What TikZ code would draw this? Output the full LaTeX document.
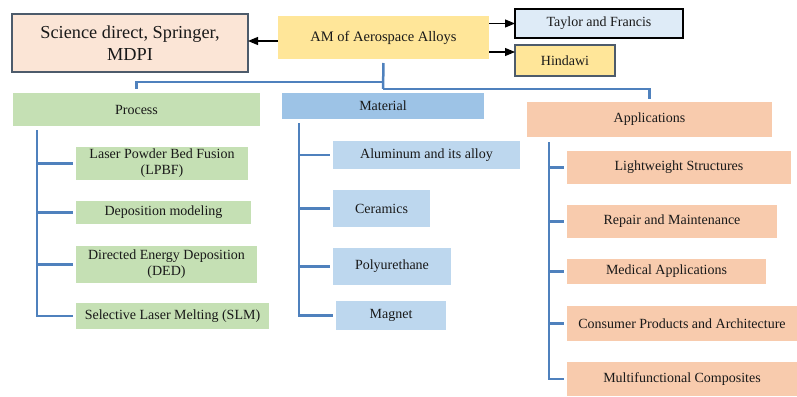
\documentclass[tikz,border=0pt]{standalone}
\usepackage{fontspec}
\setmainfont{Liberation Serif}
\usetikzlibrary{arrows.meta}
\definecolor{cSci}{HTML}{FBE5D6}
\definecolor{cEdge}{HTML}{4D5B6B}
\definecolor{cYel}{HTML}{FFE699}
\definecolor{cTF}{HTML}{DEEBF7}
\definecolor{cGrn}{HTML}{C5E0B4}
\definecolor{cMat}{HTML}{9DC3E6}
\definecolor{cMatL}{HTML}{BDD7EE}
\definecolor{cApp}{HTML}{F8CBAD}
\definecolor{cLine}{HTML}{4F81BD}
\tikzset{
  box/.style={anchor=north west, inner sep=0pt, outer sep=0pt, align=center,
    font=\fontsize{14}{16}\selectfont, text=black!90},
  conn/.style={draw=cLine, line width=2.5pt},
  arr/.style={draw=black, line width=1.1pt, -{Triangle[length=10pt,width=8pt]}},
}
\begin{document}
\begin{tikzpicture}[x=1pt,y=1pt]
\useasboundingbox (0,0) rectangle (797,-396);
% top row
\node[box, fill=cSci, draw=cEdge, line width=1.2pt, minimum width=236, minimum height=58,
  font=\fontsize{18.3}{22}\selectfont] (sci) at (12,-14) {Science direct, Springer,\\MDPI};
\node[box, fill=cYel, minimum width=211, minimum height=43, font=\fontsize{14.5}{17}\selectfont] (am) at (278,-16) {AM of Aerospace Alloys};
\node[box, fill=cTF, draw=black, line width=1.1pt, minimum width=168, minimum height=29] (tf) at (515,-9) {Taylor and Francis};
\node[box, fill=cYel, draw=cEdge, line width=1.1pt, minimum width=100, minimum height=31] (hin) at (515,-45) {Hindawi};
% categories
\node[box, fill=cGrn, minimum width=247, minimum height=33] (proc) at (13,-93) {Process};
\node[box, fill=cMat, minimum width=202, minimum height=26] (mat) at (282,-93) {Material};
\node[box, fill=cApp, minimum width=245, minimum height=35] (app) at (527,-102) {Applications};
% process children
\node[box, fill=cGrn, minimum width=172, minimum height=33] (lpbf) at (76,-147) {Laser Powder Bed Fusion\\(LPBF)};
\node[box, fill=cGrn, minimum width=175, minimum height=23] (dep) at (76,-201) {Deposition modeling};
\node[box, fill=cGrn, minimum width=181, minimum height=37] (ded) at (76,-246) {Directed Energy Deposition\\(DED)};
\node[box, fill=cGrn, minimum width=193, minimum height=26] (slm) at (76,-303) {Selective Laser Melting (SLM)};
% material children
\node[box, fill=cMatL, minimum width=187, minimum height=28] (alu) at (333,-141) {Aluminum and its alloy};
\node[box, fill=cMatL, minimum width=97, minimum height=37] (cer) at (333,-190) {Ceramics};
\node[box, fill=cMatL, minimum width=118, minimum height=37] (poly) at (333,-248) {Polyurethane};
\node[box, fill=cMatL, minimum width=110, minimum height=29] (mag) at (336,-301) {Magnet};
% application children
\node[box, fill=cApp, minimum width=224, minimum height=33] (lw) at (567,-151) {Lightweight Structures};
\node[box, fill=cApp, minimum width=210, minimum height=33] (rep) at (567,-205) {Repair and Maintenance};
\node[box, fill=cApp, minimum width=199, minimum height=25] (med) at (567,-259) {Medical Applications};
\node[box, fill=cApp, minimum width=230, minimum height=35] (con) at (567,-306) {Consumer Products and Architecture};
\node[box, fill=cApp, minimum width=230, minimum height=34] (mul) at (567,-362) {Multifunctional Composites};
% arrows
\draw[arr] ([yshift=-3.5pt]am.west) -- ([yshift=-3.5pt]am.west -| sci.east);
\draw[arr] (am.east |- tf.west) -- (tf.west);
\draw[arr] ([yshift=8.5pt]hin.west -| am.east) -- ([yshift=8.5pt]hin.west);
% tree connectors
\coordinate (jl) at (383,-82);
\coordinate (jr) at (383,-89);
\draw[conn, shorten <=4pt, shorten >=4pt] (am.south) -- (mat.north);
\draw[conn, shorten >=4pt] (jl) -| (proc.north);
\draw[conn, shorten >=3pt] (jr) -| (app.north);
% process spine
\coordinate (ps) at (37,-130);
\draw[conn, shorten >=3pt] (ps) |- (slm.west);
\foreach \n in {lpbf,dep,ded}{\draw[conn, shorten >=3pt] (ps |- \n.west) -- (\n.west);}
% material spine
\coordinate (ms) at (299,-123);
\draw[conn, shorten >=3pt] (ms) |- (mag.west);
\foreach \n in {alu,cer,poly}{\draw[conn, shorten >=3pt] (ms |- \n.west) -- (\n.west);}
% application spine
\coordinate (as) at (549,-142);
\draw[conn, shorten >=3pt] (as) |- (mul.west);
\foreach \n in {lw,rep,med,con}{\draw[conn, shorten >=3pt] (as |- \n.west) -- (\n.west);}
\end{tikzpicture}
\end{document}
